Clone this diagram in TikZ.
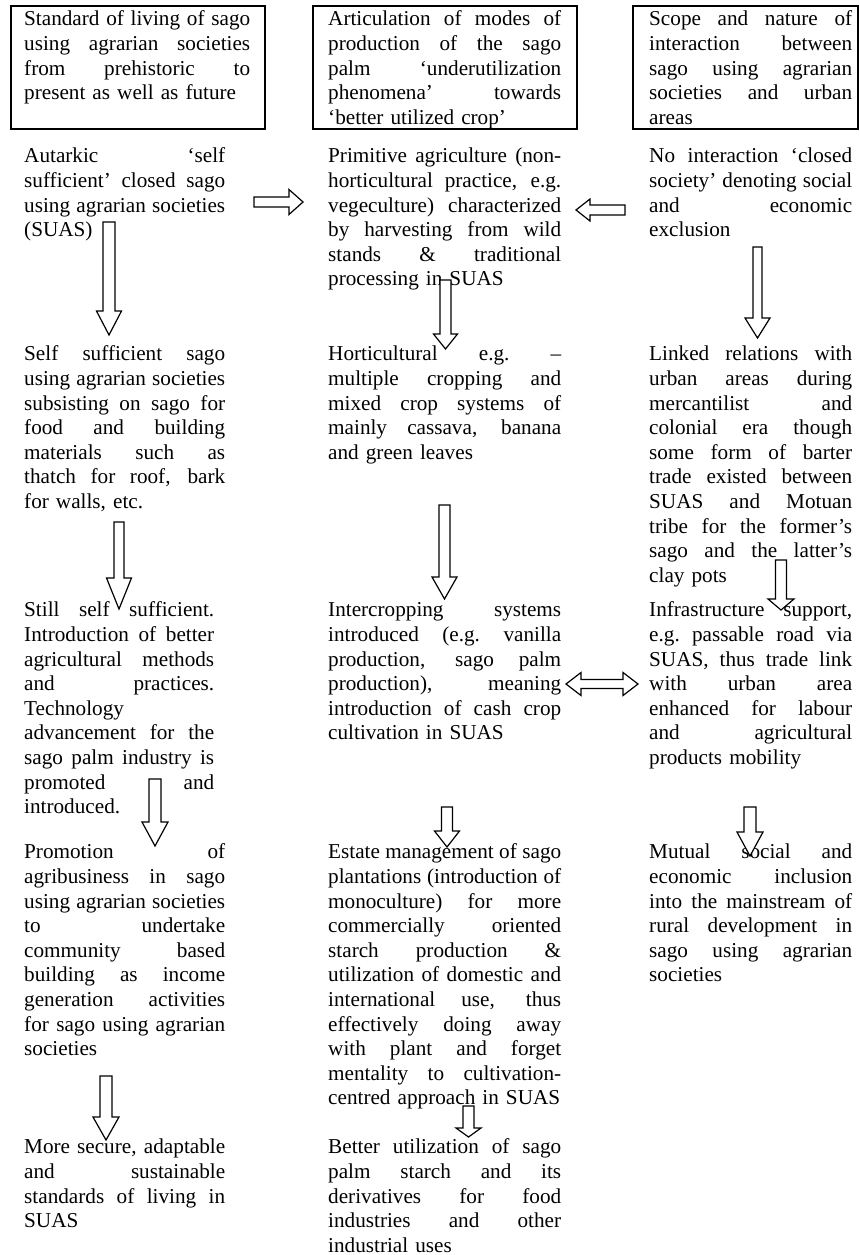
\documentclass[tikz,border=0pt]{standalone}
\usepackage{fontspec}
\setmainfont{Liberation Serif}
\newlength\cw
\newcommand\J[1]{\makebox[\cw][s]{\spaceskip=\fontdimen2\font plus 1fil\xspaceskip=\spaceskip #1}}
\newcommand\body{\fontsize{21.2}{24.6}\selectfont}
% down arrow: cx, top, headbase, tip, shaft half, head half
\newcommand\dnarrow[6]{\draw[blkarrow] ({#1-#5},#2) -- ({#1+#5},#2) -- ({#1+#5},#3) -- ({#1+#6},#3) -- (#1,#4) -- ({#1-#6},#3) -- ({#1-#5},#3) -- cycle;}
% horizontal arrow: cy, tail, headbase, tip, shaft half, head half
\newcommand\hzarrow[6]{\draw[blkarrow] (#2,{#1-#5}) -- (#3,{#1-#5}) -- (#3,{#1-#6}) -- (#4,#1) -- (#3,{#1+#6}) -- (#3,{#1+#5}) -- (#2,{#1+#5}) -- cycle;}
% double arrow: cy, left tip, left base, right base, right tip, shaft half, head half
\newcommand\dbarrow[7]{\draw[blkarrow] (#2,#1) -- (#3,{#1-#7}) -- (#3,{#1-#6}) -- (#4,{#1-#6}) -- (#4,{#1-#7}) -- (#5,#1) -- (#4,{#1+#7}) -- (#4,{#1+#6}) -- (#3,{#1+#6}) -- (#3,{#1+#7}) -- cycle;}
\begin{document}
\begin{tikzpicture}[x=1pt,y=-1pt,
  txt/.style={anchor=north west, inner sep=0pt, align=left, font=\body},
  hbox/.style={draw, line width=1.6pt, anchor=north west, inner sep=0pt},
  blkarrow/.style={draw, fill=white, line width=1.2pt, line join=miter}]
\useasboundingbox (0,0) rectangle (859,1255);
\fill[white] (0,0) rectangle (859,1255);

% header boxes
\node[hbox, minimum width=254pt, minimum height=123pt] (h1) at (10,5) {};
\node[hbox, minimum width=264pt, minimum height=123pt] (h2) at (312,5) {};
\node[hbox, minimum width=225pt, minimum height=123pt] (h3) at (632,5) {};

\node[txt, text width=226pt] (t1) at (24,8.5) {\setlength\cw{226pt}\strut\J{Standard of living of sago}\\\J{using agrarian societies}\\\J{from prehistoric to}\\present as well as future};
\node[txt, text width=233pt] (t2) at (328,8.5) {\setlength\cw{233pt}\strut\J{Articulation of modes of}\\\J{production of the sago}\\\J{palm ‘underutilization}\\\J{phenomena’ towards}\\‘better utilized crop’};
\node[txt, text width=203pt] (t3) at (649,8.5) {\setlength\cw{203pt}\strut\J{Scope and nature of}\\\J{interaction between}\\\J{sago using agrarian}\\\J{societies and urban}\\areas};

% column 1
\node[txt, text width=201pt] (a1) at (24,145.5) {\setlength\cw{201pt}\strut\J{Autarkic ‘self}\\\J{sufficient’ closed sago}\\\J{using agrarian societies}\\(SUAS)};
\node[txt, text width=201pt] (a2) at (24,343.5) {\setlength\cw{201pt}\strut\J{Self sufficient sago}\\\J{using agrarian societies}\\\J{subsisting on sago for}\\\J{food and building}\\\J{materials such as}\\\J{thatch for roof, bark}\\for walls, etc.};
\node[txt, text width=190pt] (a3) at (24,599.5) {\setlength\cw{190pt}\strut\J{Still self sufficient.}\\\J{Introduction of better}\\\J{agricultural methods}\\\J{and practices.}\\Technology\\\J{advancement for the}\\\J{sago palm industry is}\\\J{promoted and}\\introduced.};
\node[txt, text width=201pt] (a4) at (24,841.5) {\setlength\cw{201pt}\strut\J{Promotion of}\\\J{agribusiness in sago}\\\J{using agrarian societies}\\\J{to undertake}\\\J{community based}\\\J{building as income}\\\J{generation activities}\\\J{for sago using agrarian}\\societies};
\node[txt, text width=201pt] (a5) at (24,1136.5) {\setlength\cw{201pt}\strut\J{More secure, adaptable}\\\J{and sustainable}\\\J{standards of living in}\\SUAS};

% column 2
\node[txt, text width=233pt] (p1) at (328,145.5) {\setlength\cw{233pt}\strut\J{Primitive agriculture (non-}\\\J{horticultural practice, e.g.}\\\J{vegeculture) characterized}\\\J{by harvesting from wild}\\\J{stands \& traditional}\\processing in SUAS};
\node[txt, text width=233pt] (p2) at (328,343.5) {\setlength\cw{233pt}\strut\J{Horticultural e.g. –}\\\J{multiple cropping and}\\\J{mixed crop systems of}\\\J{mainly cassava, banana}\\and green leaves};
\node[txt, text width=233pt] (p3) at (328,599.5) {\setlength\cw{233pt}\strut\J{Intercropping systems}\\\J{introduced (e.g. vanilla}\\\J{production, sago palm}\\\J{production), meaning}\\\J{introduction of cash crop}\\cultivation in SUAS};
\node[txt, text width=233pt] (p4) at (328,841.5) {\setlength\cw{233pt}\strut\J{Estate management of sago}\\\J{plantations (introduction of}\\\J{monoculture) for more}\\\J{commercially oriented}\\\J{starch production \&}\\\J{utilization of domestic and}\\\J{international use, thus}\\\J{effectively doing away}\\\J{with plant and forget}\\\J{mentality to cultivation-}\\centred approach in SUAS};
\node[txt, text width=233pt] (p5) at (328,1136.5) {\setlength\cw{233pt}\strut\J{Better utilization of sago}\\\J{palm starch and its}\\\J{derivatives for food}\\\J{industries and other}\\industrial uses};

% column 3
\node[txt, text width=203pt] (s1) at (649,145.5) {\setlength\cw{203pt}\strut\J{No interaction ‘closed}\\\J{society’ denoting social}\\\J{and economic}\\exclusion};
\node[txt, text width=203pt] (s2) at (649,343.5) {\setlength\cw{203pt}\strut\J{Linked relations with}\\\J{urban areas during}\\\J{mercantilist and}\\\J{colonial era though}\\\J{some form of barter}\\\J{trade existed between}\\\J{SUAS and Motuan}\\\J{tribe for the former’s}\\\J{sago and the latter’s}\\clay pots};
\node[txt, text width=203pt] (s3) at (649,599.5) {\setlength\cw{203pt}\strut\J{Infrastructure support,}\\\J{e.g. passable road via}\\\J{SUAS, thus trade link}\\\J{with urban area}\\\J{enhanced for labour}\\\J{and agricultural}\\products mobility};
\node[txt, text width=203pt] (s4) at (649,841.5) {\setlength\cw{203pt}\strut\J{Mutual social and}\\\J{economic inclusion}\\\J{into the mainstream of}\\\J{rural development in}\\\J{sago using agrarian}\\societies};

% arrows
\hzarrow{202}{254}{289}{303}{5}{12.5}
\hzarrow{210}{625}{590}{576}{5}{11}
\dnarrow{109}{222}{311}{335}{6}{12.5}
\dnarrow{445.5}{280}{334}{349}{5.5}{12}
\dnarrow{757.5}{247}{318}{338}{4.5}{12.5}
\dnarrow{119}{522}{578}{609}{5}{12.5}
\dnarrow{444.5}{505}{577}{599}{5.5}{12.5}
\dnarrow{781}{560}{599}{610}{5.5}{13}
\dbarrow{684}{566}{581}{623}{638}{4.5}{11.5}
\dnarrow{155}{779}{822}{846}{6}{13}
\dnarrow{447}{807}{831}{847}{5.5}{12.5}
\dnarrow{750}{807}{832}{856}{6}{13}
\dnarrow{106}{1076}{1117}{1140}{6}{13}
\dnarrow{468.5}{1106}{1128}{1137}{5.5}{12.5}
\end{tikzpicture}
\end{document}
